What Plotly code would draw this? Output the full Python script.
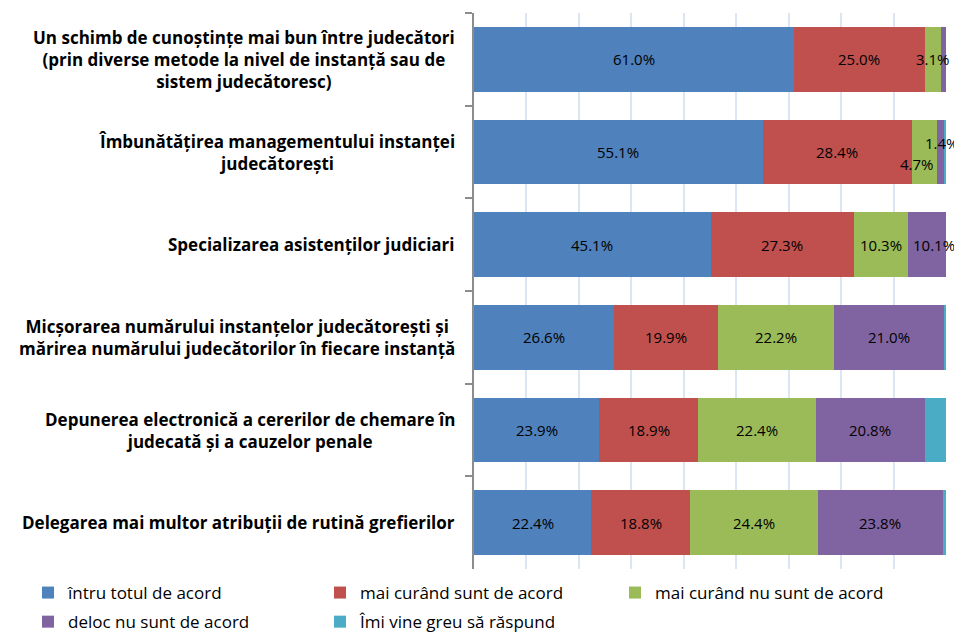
import plotly.graph_objects as go

categories = [
    "Un schimb de cunoștințe mai bun între judecători<br>(prin diverse metode la nivel de instanță sau de<br>sistem judecătoresc)",
    "Îmbunătățirea managementului instanței<br>judecătorești",
    "Specializarea asistenților judiciari",
    "Micșorarea numărului instanțelor judecătorești și<br>mărirea numărului judecătorilor în fiecare instanță",
    "Depunerea electronică a cererilor de chemare în<br>judecată și a cauzelor penale",
    "Delegarea mai multor atribuții de rutină grefierilor",
]

series_names = [
    "întru totul de acord",
    "mai curând sunt de acord",
    "mai curând nu sunt de acord",
    "deloc nu sunt de acord",
    "Îmi vine greu să răspund",
]

# percentages (the axis stops at 90%, so the last segments are cut off)
v_total_acord = [61.0, 55.1, 45.1, 26.6, 23.9, 22.4]
v_curand_acord = [25.0, 28.4, 27.3, 19.9, 18.9, 18.8]
v_curand_nu = [3.1, 4.7, 10.3, 22.2, 22.4, 24.4]
v_deloc = [8.5, 1.4, 10.1, 21.0, 20.8, 23.8]
v_greu = [2.4, 10.4, 7.2, 10.3, 14.0, 10.6]

series_values = [v_total_acord, v_curand_acord, v_curand_nu, v_deloc, v_greu]

colors = ["#4F81BD", "#C0504D", "#9BBB59", "#8064A2", "#4BACC6"]
legend_ids = ["legend", "legend2", "legend3", "legend", "legend2"]

x_max = 90

# label nudges (series index, category index) -> (xshift, yshift) in pixels
label_shift = {(2, 1): (-7, -12), (3, 1): (2, 9)}

FONT = "Open Sans"

fig = go.Figure()
for name, vals, col, lg in zip(series_names, series_values, colors, legend_ids):
    fig.add_trace(go.Bar(
        y=categories, x=vals, name=name, orientation="h",
        marker=dict(color=col, line=dict(width=0)),
        legend=lg, legendgroup=name, hoverinfo="skip",
    ))

annotations = []

# data labels, placed at the centre of each segment (hidden when the centre is beyond the axis)
cum = [0.0] * len(categories)
for si, vals in enumerate(series_values):
    for ci, v in enumerate(vals):
        centre = cum[ci] + v / 2
        cum[ci] += v
        if si < 4 and centre < x_max:
            xs, ys = label_shift.get((si, ci), (0, 0))
            annotations.append(dict(
                x=centre, xref="x", y=categories[ci], yref="y",
                text=f"{v:.1f}%", showarrow=False,
                xanchor="center", yanchor="middle",
                xshift=xs, yshift=ys,
                font=dict(family=FONT, size=15, color="#000000"),
            ))

# page has an 8px body margin
W, H = 954, 627
ML, MR, MT, MB = 466, 16, 5, 66
pw = W - ML - MR
ph = H - MT - MB

def px_to_paper_x(px):
    return (px - ML) / pw

def px_to_paper_y(py):
    return (H - MB - py) / ph

for c in categories:
    annotations.append(dict(
        x=px_to_paper_x(449), xref="paper", y=c, yref="y",
        xanchor="right", yanchor="middle", align="center",
        text=c, showarrow=False,
        font=dict(family=FONT, size=17, color="#000000", weight="bold"),
    ))

legend_common = dict(
    orientation="v", bgcolor="rgba(0,0,0,0)", borderwidth=0,
    font=dict(family=FONT, size=17, color="#000000"),
    xanchor="left", yanchor="top", traceorder="grouped",
    tracegroupgap=4, itemwidth=30,
)

fig.update_layout(
    width=W, height=H,
    margin=dict(l=ML, r=MR, t=MT, b=MB, autoexpand=False),
    paper_bgcolor="white", plot_bgcolor="white",
    barmode="stack", bargap=0.3,
    font=dict(family=FONT, size=15, color="#000000"),
    xaxis=dict(range=[0, x_max], dtick=10, showgrid=True, gridcolor="#DCE6F2",
               gridwidth=2, showticklabels=False, zeroline=False, showline=False,
               fixedrange=True),
    yaxis=dict(categoryorder="array", categoryarray=categories, autorange="reversed",
               showline=True, linecolor="#8C8C8C", linewidth=1.5,
               ticks="outside", ticklen=7, tickcolor="#8C8C8C", tickwidth=1.5,
               tickson="boundaries", showticklabels=False, showgrid=False,
               fixedrange=True),
    annotations=annotations,
    legend=dict(x=px_to_paper_x(20), y=px_to_paper_y(567), **legend_common),
    legend2=dict(x=px_to_paper_x(312), y=px_to_paper_y(567), **legend_common),
    legend3=dict(x=px_to_paper_x(607), y=px_to_paper_y(567), **legend_common),
    showlegend=True,
)

fig.write_html("out.html")
